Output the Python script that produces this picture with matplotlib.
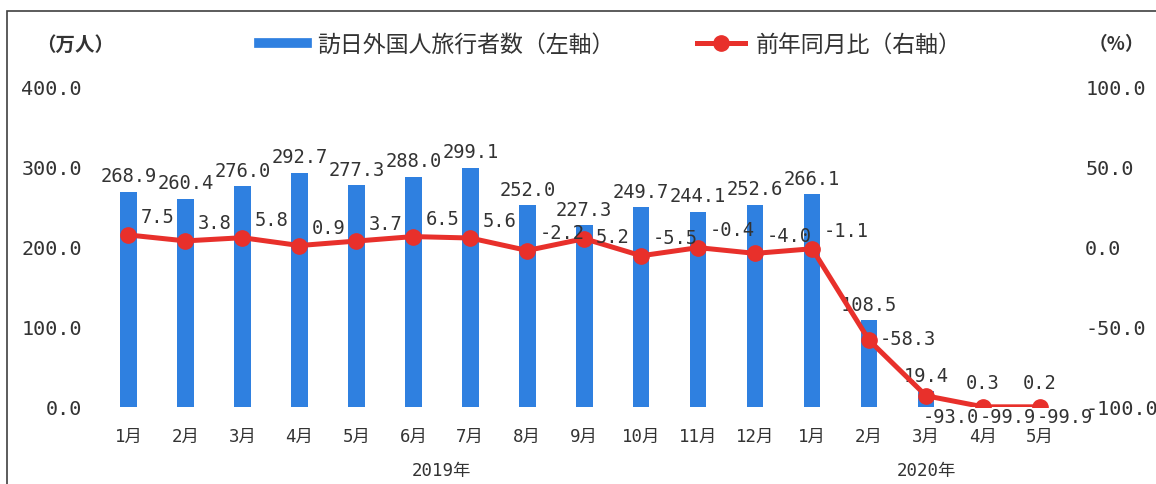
import matplotlib
matplotlib.use('Agg')
import matplotlib.pyplot as plt
import matplotlib.transforms as mtransforms
from matplotlib.lines import Line2D
from matplotlib.patches import Rectangle
from matplotlib.ticker import FormatStrFormatter

plt.rcParams['font.family'] = ['Noto Sans CJK JP', 'DejaVu Sans']
plt.rcParams['axes.unicode_minus'] = False
num_font = ['DejaVu Sans Mono', 'Noto Sans CJK JP']

# data
months = ['1月', '2月', '3月', '4月', '5月', '6月', '7月', '8月', '9月', '10月', '11月', '12月',
          '1月', '2月', '3月', '4月', '5月']
visitors = [268.9, 260.4, 276.0, 292.7, 277.3, 288.0, 299.1, 252.0, 227.3, 249.7, 244.1, 252.6,
            266.1, 108.5, 19.4, 0.3, 0.2]
yoy = [7.5, 3.8, 5.8, 0.9, 3.7, 6.5, 5.6, -2.2, 5.2, -5.5, -0.4, -4.0,
       -1.1, -58.3, -93.0, -99.9, -99.9]
years = ['2019年', '2020年']
year_months = [12, 5]

blue = '#2F80E0'
red = '#E8302B'
txt = '#333333'

fig = plt.figure(figsize=(11.56, 4.85), dpi=100)
ax = fig.add_axes([0.0865, 0.1588, 0.8378, 0.6598])
ax2 = ax.twinx()

x = list(range(len(months)))
ax.bar(x, visitors, width=0.29, color=blue, zorder=2)
ax2.plot(x, yoy, color=red, lw=3.6, marker='o', ms=11, zorder=3)

ax.set_xlim(-0.5, len(months) - 0.5)
ax.set_ylim(0, 400)
ax2.set_ylim(-100, 100)
ax.set_yticks([0, 100, 200, 300, 400])
ax2.set_yticks([-100, -50, 0, 50, 100])
ax.yaxis.set_major_formatter(FormatStrFormatter('%.1f'))
ax2.yaxis.set_major_formatter(FormatStrFormatter('%.1f'))
ax.set_xticks(x)
ax.set_xticklabels(months)

for a in (ax, ax2):
    for s in a.spines.values():
        s.set_visible(False)
    a.tick_params(length=0, colors=txt)
ax.tick_params(axis='y', labelsize=14.5, pad=13)
ax2.tick_params(axis='y', labelsize=14.5, pad=12)
ax.tick_params(axis='x', labelsize=12.5, pad=14)
for lab in ax.get_yticklabels() + ax2.get_yticklabels() + ax.get_xticklabels():
    lab.set_family(num_font)

ax.set_zorder(ax2.get_zorder() - 1)
ax.patch.set_visible(False)

# bar labels
bar_off = 16
for i, v in enumerate(visitors):
    ax.annotate(f'{v:.1f}', (i, max(v, 10)), xytext=(0, bar_off), textcoords='offset pixels',
                ha='center', va='center', fontsize=13.5, color=txt, family=num_font)

# line labels: above-right unless that would hit the bar label
for i, v in enumerate(yoy):
    if v < -90:
        ax2.text(i - 0.05, -106, f'{v:.1f}', ha='left', va='center', fontsize=13.5,
                 color=txt, family=num_font)
        continue
    bar_lab_y = ax.transData.transform((i, max(visitors[i], 10)))[1] + bar_off
    pt_y = ax2.transData.transform((i, v))[1]
    if bar_lab_y - (pt_y + 16) < 30:
        off = (11, 2)
    else:
        off = (12, 18)
    ax2.annotate(f'{v:.1f}', (i, v), xytext=off, textcoords='offset pixels',
                 ha='left', va='center', fontsize=13.5, color=txt, family=num_font)

# year labels
trans = mtransforms.blended_transform_factory(ax.transData, fig.transFigure)
start = 0
for yr, n in zip(years, year_months):
    ax.text(start + (n - 1) / 2, 0.029, yr, transform=trans, ha='center', va='center',
            fontsize=12.5, color=txt, family=num_font)
    start += n

# unit labels
fig.text(75 / 1156, 1 - 45 / 485, '（万人）', ha='center', va='center', fontsize=14,
         fontweight='bold', color=txt)
fig.text(1116 / 1156, 1 - 45 / 485, '（%）', ha='center', va='center', fontsize=13.5,
         fontweight='bold', color=txt)

# legend
handles = [Line2D([], [], color=blue, lw=7),
           Line2D([], [], color=red, lw=3.6, marker='o', ms=11)]
labels = ['訪日外国人旅行者数（左軸）', '前年同月比（右軸）']
fig.legend(handles, labels, loc='center', bbox_to_anchor=(0.528, 0.907), ncol=2,
           frameon=False, fontsize=16.5, handlelength=2.1, handletextpad=0.45,
           columnspacing=3.6, labelcolor=txt)

# outer frame
fig.add_artist(Rectangle((7 / 1156, -0.05), 1.1, 1 - 12 / 485 + 0.05, transform=fig.transFigure,
                         fill=False, edgecolor='#404040', lw=1.2, clip_on=False))

fig.savefig('out.png', dpi=100)
